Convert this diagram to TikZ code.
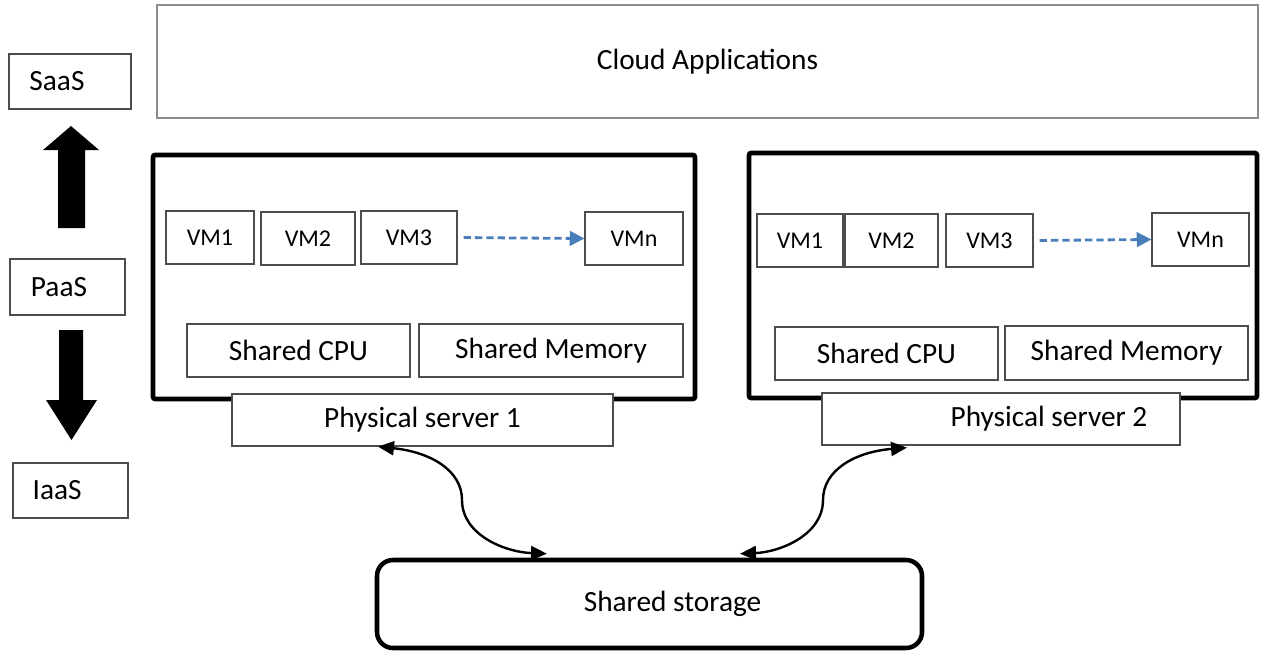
\documentclass[tikz,border=0pt]{standalone}
\usepackage{fontspec}
\setmainfont{Carlito}
\usetikzlibrary{arrows.meta}
\definecolor{vmblue}{HTML}{4A7EBB}
\definecolor{boxgray}{HTML}{4D4D4D}
\definecolor{lightgray}{HTML}{8C8C8C}
% style, name, x1, y1, x2, y2, text  (pixel coordinates)
\newcommand{\pxbox}[7]{\node[#1, minimum width={(#5-#3)*0.75pt}, minimum height={(#6-#4)*0.75pt}] (#2) at ({(#3+#5)/2},{(#4+#6)/2}) {#7};}
\begin{document}
\begin{tikzpicture}[x=0.75pt,y=-0.75pt,
  box/.style={draw=boxgray, line width=0.9pt, fill=white, inner sep=0pt, font=\fontsize{22}{26}\selectfont},
  vm/.style={box, font=\fontsize{18}{22}\selectfont},
  server/.style={draw=black, line width=3.4pt, rounded corners=1.5pt, inner sep=0pt},
  store/.style={draw=black, line width=3.4pt, rounded corners=12pt, inner sep=0pt, font=\fontsize{22}{26}\selectfont},
  bigarrow/.style={fill=black, draw=none},
  conn/.style={{Triangle[length=12pt,width=10.5pt]}-{Triangle[length=12pt,width=10.5pt]}, line width=1.8pt},
  vmflow/.style={-{Triangle[length=11pt,width=11pt]}, draw=vmblue, line width=2.1pt, dash pattern=on 5.5pt off 3pt, shorten <=4.5pt}]
\useasboundingbox (0,0) rectangle (1264,653);

% top layer
\pxbox{box, draw=lightgray}{cloud}{157}{5}{1258}{118}{Cloud Applications}

% service levels
\pxbox{box}{saas}{9}{54}{131}{109}{SaaS\hspace*{19.5pt}}
\pxbox{box}{paas}{10}{259}{125}{315}{PaaS\hspace*{12.75pt}}
\pxbox{box}{iaas}{13}{463}{128}{518}{IaaS\hspace*{20pt}}
\fill[bigarrow] (71,126) -- (99,150) -- (85,150) -- (85,228) -- (58,228) -- (58,150) -- (43,150) -- cycle;
\fill[bigarrow] (71.5,440) -- (97,400) -- (83,400) -- (83,330) -- (59,330) -- (59,400) -- (46,400) -- cycle;

% server 1
\pxbox{server}{srv1}{153}{155}{695}{399}{}
\pxbox{vm}{vm11}{166}{211}{254}{264}{VM1}
\pxbox{vm}{vm12}{261}{212}{355}{265}{VM2}
\pxbox{vm}{vm13}{361}{211}{457}{264}{VM3}
\pxbox{vm}{vm1n}{585}{212}{683}{265}{VMn}
\pxbox{box}{cpu1}{187}{324}{410}{377}{Shared CPU}
\pxbox{box}{mem1}{419}{324}{683}{377}{Shared Memory}
\pxbox{box}{ps1}{232}{394}{613}{446}{Physical server 1}
\draw[vmflow] (vm13.east) -- (vm1n.west);

% server 2
\pxbox{server}{srv2}{749}{153}{1257}{398}{}
\pxbox{vm}{vm21}{757}{214}{843}{267}{VM1}
\pxbox{vm}{vm22}{845}{214}{938}{267}{VM2}
\pxbox{vm}{vm23}{946}{214}{1033}{267}{VM3}
\pxbox{vm}{vm2n}{1152}{213}{1249}{266}{VMn}
\pxbox{box}{cpu2}{775}{327}{998}{380}{Shared CPU}
\pxbox{box}{mem2}{1005}{326}{1248}{380}{Shared Memory}
\pxbox{box}{ps2}{822}{393}{1180}{445}{\hspace*{72pt}Physical server 2}
\draw[vmflow] (vm23.east) -- (vm2n.west);

% storage
\pxbox{store}{store}{377}{560}{922}{648}{\hspace*{34.5pt}Shared storage}

% connectors
\draw[conn] ([xshift=-33.4pt]ps1.south) .. controls (430,452) and (462,470) .. (462,500)
  .. controls (462,535) and (505,552) .. ([xshift=-76.9pt,yshift=3pt]store.north);
\draw[conn] ([xshift=-70.5pt,yshift=-1.5pt]ps2.south) .. controls (855,452) and (823,470) .. (823,500)
  .. controls (823,535) and (780,552) .. ([xshift=67.9pt,yshift=3pt]store.north);
\end{tikzpicture}
\end{document}
